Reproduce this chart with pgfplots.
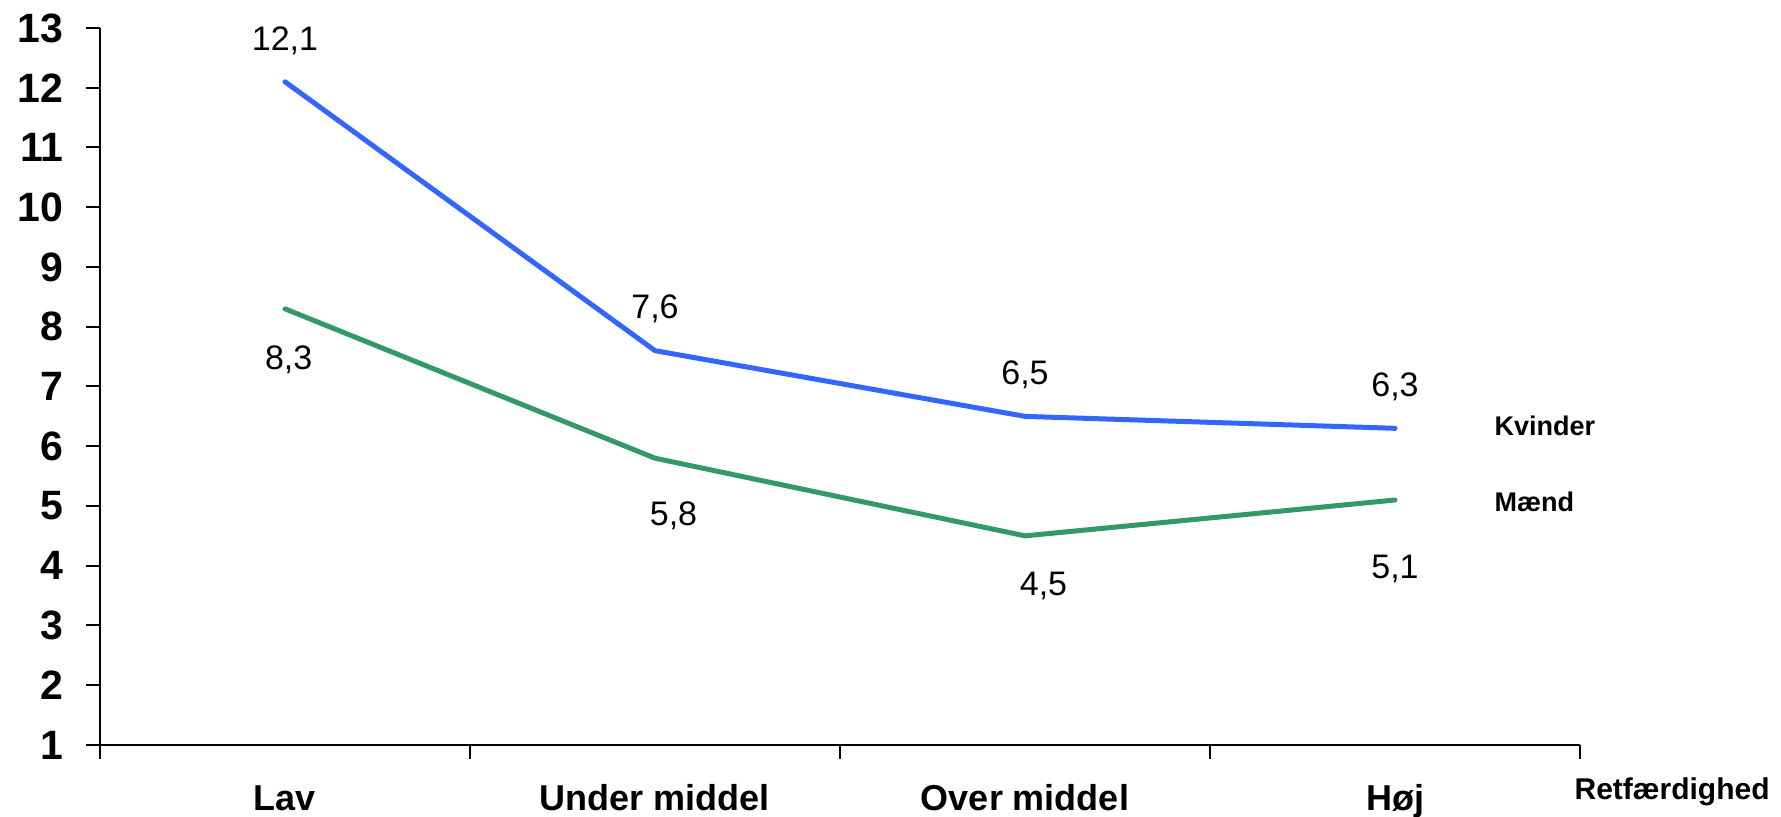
\documentclass[border=0pt]{standalone}
\usepackage{fontspec}
\setmainfont{Liberation Sans}
\usepackage{pgfplots}
\pgfplotsset{compat=1.18}

\definecolor{kvblue}{RGB}{51,102,255}
\definecolor{mdgreen}{RGB}{51,153,102}

\begin{document}
\begin{tikzpicture}
\begin{axis}[
    at={(0,0)}, anchor=south west,
    scale only axis,
    width=740pt, height=358.5pt,
    xmin=0, xmax=4,
    ymin=1, ymax=13,
    axis lines*=left,
    axis line style={line width=1pt},
    tick align=outside,
    major tick length=7pt,
    tick style={line width=1pt, black},
    xtick={0,1,2,3,4},
    xticklabels={},
    extra x ticks={0.5,1.5,2.5,3.5},
    extra x tick labels={Lav,Under middel,Over middel,H\o j},
    extra x tick style={tick style={draw=none},
        xticklabel style={font=\fontsize{18}{20}\selectfont\bfseries,
            anchor=base, inner sep=0pt, yshift=-26pt}},
    ytick={1,2,...,13},
    yticklabel style={font=\fontsize{20.5}{24}\selectfont\bfseries,
        anchor=east, inner sep=0pt, xshift=-11pt},
    /pgf/number format/assume math mode=true,
    clip=false,
]

% Kvinder
\addplot[kvblue, line width=2.5pt, line join=round, line cap=round] coordinates {
    (0.5,12.1) (1.5,7.6) (2.5,6.5) (3.5,6.3)
};
% Mænd
\addplot[mdgreen, line width=2.5pt, line join=round, line cap=round] coordinates {
    (0.5,8.3) (1.5,5.8) (2.5,4.5) (3.5,5.1)
};

% data labels
\begin{scope}[every node/.style={font=\fontsize{17}{20}\selectfont, anchor=base, inner sep=0pt}]
\node at (axis cs:0.50,12.63) {12,1};
\node at (axis cs:1.50,8.13) {7,6};
\node at (axis cs:2.50,7.03) {6,5};
\node at (axis cs:3.50,6.83) {6,3};
\node at (axis cs:0.51,7.28) {8,3};
\node at (axis cs:1.55,4.68) {5,8};
\node at (axis cs:2.55,3.51) {4,5};
\node at (axis cs:3.50,3.79) {5,1};
\end{scope}

\node[font=\fontsize{13.5}{15}\selectfont\bfseries, anchor=west, inner sep=0pt] at (axis cs:3.768,6.34) {Kvinder};
\node[font=\fontsize{13.5}{15}\selectfont\bfseries, anchor=west, inner sep=0pt] at (axis cs:3.768,5.07) {M\ae nd};
\node[font=\fontsize{15}{18}\selectfont\bfseries, anchor=base, inner sep=0pt] at (axis cs:4.249,0.08) {Retf\ae rdighed};

\end{axis}
\pgfresetboundingbox
\useasboundingbox (-50pt,-36pt) rectangle (840.5pt,372.5pt);
\end{tikzpicture}
\end{document}
